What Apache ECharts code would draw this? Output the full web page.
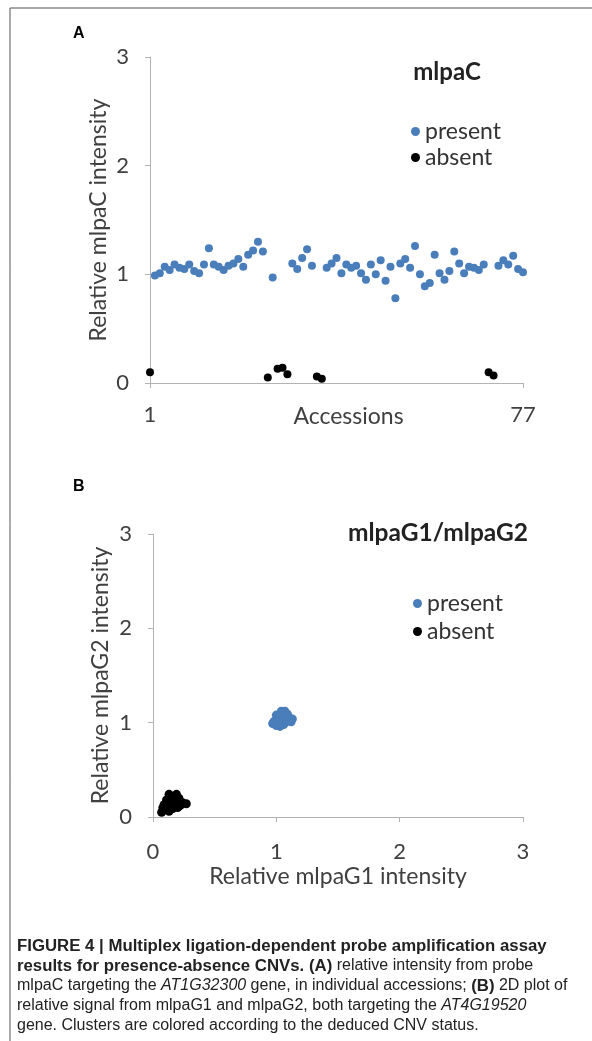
<!DOCTYPE html>
<html>
<head>
<meta charset="utf-8">
<script src="https://cdn.jsdelivr.net/npm/echarts@6.0.0/dist/echarts.min.js"></script>
<style>
    html, body { margin: 0; padding: 0; background: #fff; }
    #chart { width: 592px; height: 1041px; }
</style>
</head>
<body>
<div id="chart"></div>
<script>
// Panel A: relative mlpaC intensity per accession
var presentIdx = [2, 3, 4, 5, 6, 7, 8, 9, 10, 11, 12, 13, 14, 15, 16, 17, 18, 19, 20, 21, 22, 23, 24,
    26, 30, 31, 32, 33, 34,
    37, 38, 39, 40, 41, 42, 43, 44, 45, 46, 47, 48, 49, 50, 51, 52, 53, 54, 55, 56, 57, 58, 59, 60,
    61, 62, 63, 64, 65, 66, 67, 68, 69,
    72, 73, 74, 75, 76, 77];
var presentVal = [0.99, 1.01, 1.07, 1.04, 1.09, 1.06, 1.05, 1.09, 1.03, 1.01, 1.09, 1.24, 1.09, 1.07, 1.04, 1.08, 1.10, 1.14, 1.07, 1.18, 1.22, 1.30, 1.21,
    0.97, 1.10, 1.05, 1.15, 1.23, 1.08,
    1.06, 1.10, 1.15, 1.01, 1.09, 1.06, 1.08, 1.01, 0.95, 1.09, 1.00, 1.13, 0.94, 1.07, 0.78, 1.10, 1.14, 1.06, 1.26, 1.00, 0.89, 0.92, 1.18, 1.01,
    0.95, 1.03, 1.21, 1.10, 1.01, 1.07, 1.06, 1.04, 1.09,
    1.08, 1.13, 1.09, 1.17, 1.05, 1.02];
var absentIdx = [1, 25, 27, 28, 29, 35, 36, 70, 71];
var absentVal = [0.10, 0.05, 0.13, 0.14, 0.08, 0.06, 0.04, 0.10, 0.07];
var accessionTicks = [1, 77];

// Panel B: mlpaG1 (x) vs mlpaG2 (y)
var presentG1 = [0.97, 1.00, 1.03, 1.06, 0.99, 1.02, 1.05, 1.08, 1.11, 1.13, 1.01, 1.04, 1.07, 1.10, 1.03, 1.06, 1.09, 1.04, 1.07, 1.00, 0.98, 1.05, 1.09, 1.12];
var presentG2 = [0.99, 0.97, 0.96, 0.98, 1.02, 1.01, 1.02, 1.01, 1.03, 1.04, 1.05, 1.06, 1.05, 1.06, 1.09, 1.10, 1.09, 1.12, 1.12, 1.08, 1.01, 0.99, 1.03, 1.01];
var absentG1 = [0.07, 0.10, 0.13, 0.09, 0.12, 0.16, 0.20, 0.14, 0.17, 0.11, 0.15, 0.19, 0.21, 0.24, 0.27, 0.22, 0.08, 0.13, 0.17];
var absentG2 = [0.05, 0.08, 0.06, 0.13, 0.11, 0.09, 0.10, 0.16, 0.14, 0.18, 0.21, 0.24, 0.20, 0.15, 0.14, 0.12, 0.10, 0.24, 0.19];

var BLUE = '#4a7ebb';
var AXIS = '#b3b3b3';
var TEXT = '#404040';
var FONT = 'Lato';

function pairs(xs, ys) {
    return xs.map(function(x, i) { return [x, ys[i]]; });
}

// shared axis look
function valueAxis(extra) {
    var base = {
        type: 'value',
        splitLine: { show: false },
        axisLine: { show: true, onZero: false, lineStyle: { color: AXIS, width: 1 } },
        axisTick: { show: true, length: 5, lineStyle: { color: AXIS } },
        nameMoveOverlap: false,
        nameTextStyle: { color: TEXT, fontFamily: FONT, fontSize: 23 }
    };
    return Object.assign(base, extra);
}

function tickLabel(margin, extra) {
    return Object.assign({ color: TEXT, fontFamily: FONT, fontSize: 22, margin: margin }, extra || {});
}

var caption = [
    '{b|FIGURE 4 | Multiplex ligation-dependent probe amplification assay}',
    '{b|results for presence-absence CNVs. (A)} relative intensity from probe',
    'mlpaC targeting the {i|AT1G32300} gene, in individual accessions; {b|(B)} 2D plot of',
    'relative signal from mlpaG1 and mlpaG2, both targeting the {i|AT4G19520}',
    'gene. Clusters are colored according to the deduced CNV status.'
];

var captionRich = {
    b: { fontWeight: 'bold', fontSize: 16.8, fontFamily: 'Liberation Sans', fill: '#222' },
    i: { fontStyle: 'italic', fontSize: 16, fontFamily: 'Liberation Sans', fill: '#222' }
};

var graphics = [
    { type: 'line', shape: { x1: 10, y1: 8, x2: 592, y2: 8 }, style: { stroke: '#555', lineWidth: 1 } },
    { type: 'line', shape: { x1: 10, y1: 8, x2: 10, y2: 1041 }, style: { stroke: '#555', lineWidth: 1 } },
    { type: 'text', x: 73, y: 34, style: { text: 'A', fontFamily: 'Liberation Sans', fontWeight: 'bold', fontSize: 16, fill: '#000', verticalAlign: 'middle' } },
    { type: 'text', x: 73, y: 487, style: { text: 'B', fontFamily: 'Liberation Sans', fontWeight: 'bold', fontSize: 16, fill: '#000', verticalAlign: 'middle' } },
    { type: 'text', x: 447, y: 72, style: { text: 'mlpaC', fontFamily: FONT, fontWeight: 'bold', fontSize: 24, fill: '#222', align: 'center', verticalAlign: 'middle' } },
    { type: 'text', x: 438, y: 533, style: { text: 'mlpaG1/mlpaG2', fontFamily: FONT, fontWeight: 'bold', fontSize: 24.5, fill: '#222', align: 'center', verticalAlign: 'middle' } }
];

caption.forEach(function(line, i) {
    graphics.push({
        type: 'text', x: 17, y: 946 + i * 20,
        style: { text: line, rich: captionRich, fontFamily: 'Liberation Sans', fontSize: 16, fill: '#222', verticalAlign: 'middle' }
    });
});

function legendAt(left, top, gap) {
    return {
        left: left,
        top: top,
        orient: 'vertical',
        icon: 'circle',
        itemWidth: 9,
        itemHeight: 9,
        itemGap: gap,
        data: ['present', 'absent'],
        textStyle: { color: '#333', fontFamily: FONT, fontSize: 23 }
    };
}

var option = {
    animation: false,
    backgroundColor: '#fff',
    graphic: graphics,
    legend: [
        legendAt(406, 115, 3),
        legendAt(408, 587, 5)
    ],
    grid: [
        { left: 150, top: 57, width: 373, height: 326 },
        { left: 153, top: 534, width: 370, height: 283 }
    ],
    xAxis: [
        valueAxis({
            gridIndex: 0, min: 1, max: 77,
            name: 'Accessions', nameLocation: 'middle', nameGap: 22,
            nameTextStyle: { color: TEXT, fontFamily: FONT, fontSize: 23, padding: [0, 0, 0, 24] },
            axisTick: { show: true, length: 5, lineStyle: { color: AXIS }, customValues: accessionTicks },
            axisLabel: tickLabel(21, { customValues: accessionTicks })
        }),
        valueAxis({
            gridIndex: 1, min: 0, max: 3, interval: 1,
            name: 'Relative mlpaG1 intensity', nameLocation: 'middle', nameGap: 48,
            axisLabel: tickLabel(24)
        })
    ],
    yAxis: [
        valueAxis({
            gridIndex: 0, min: 0, max: 3, interval: 1,
            name: 'Relative mlpaC intensity', nameLocation: 'middle', nameGap: 40,
            axisLabel: tickLabel(21)
        }),
        valueAxis({
            gridIndex: 1, min: 0, max: 3, interval: 1,
            name: 'Relative mlpaG2 intensity', nameLocation: 'middle', nameGap: 41,
            axisLabel: tickLabel(21)
        })
    ],
    series: [
        {
            name: 'present', type: 'scatter', xAxisIndex: 0, yAxisIndex: 0,
            symbolSize: 8, itemStyle: { color: BLUE, opacity: 1 },
            data: pairs(presentIdx, presentVal)
        },
        {
            name: 'absent', type: 'scatter', xAxisIndex: 0, yAxisIndex: 0,
            symbolSize: 8, itemStyle: { color: '#000', opacity: 1 },
            data: pairs(absentIdx, absentVal)
        },
        {
            name: 'present', type: 'scatter', xAxisIndex: 1, yAxisIndex: 1,
            symbolSize: 9, itemStyle: { color: BLUE, opacity: 1 },
            data: pairs(presentG1, presentG2)
        },
        {
            name: 'absent', type: 'scatter', xAxisIndex: 1, yAxisIndex: 1,
            symbolSize: 9, itemStyle: { color: '#000', opacity: 1 },
            data: pairs(absentG1, absentG2)
        }
    ]
};

var chart = echarts.init(document.getElementById('chart'));
chart.setOption(option);
</script>
</body>
</html>
